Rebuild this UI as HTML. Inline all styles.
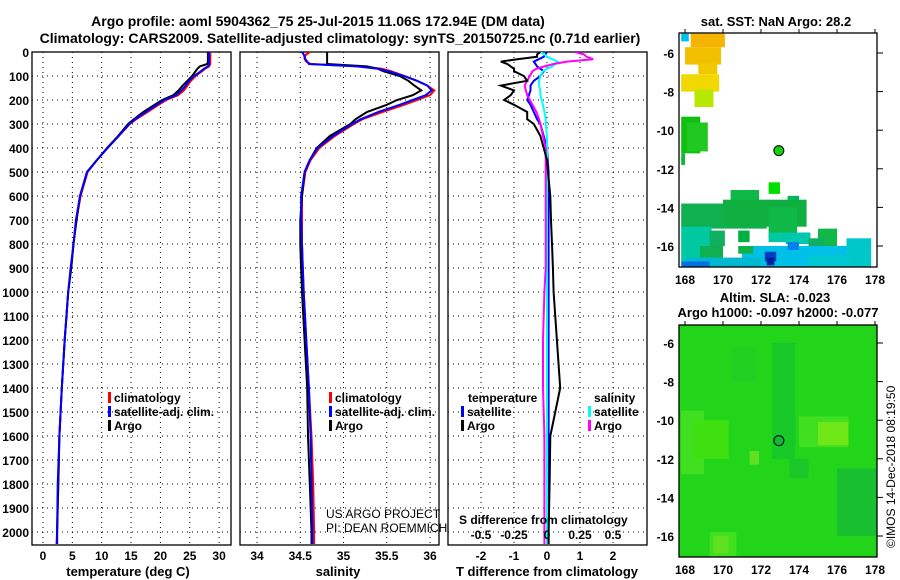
<!DOCTYPE html>
<html><head><meta charset="utf-8"><style>
html,body{margin:0;padding:0;background:#fff;}
svg{display:block;font-family:"Liberation Sans",Arial,sans-serif;font-weight:bold;}
text{fill:#000;}
</style></head><body>
<svg id="fig" width="900" height="580" viewBox="0 0 900 580" xmlns="http://www.w3.org/2000/svg">
<defs>
<clipPath id="c1"><rect x="32" y="52" width="199" height="493"/></clipPath>
<clipPath id="c2"><rect x="240" y="52" width="199" height="493"/></clipPath>
<clipPath id="c3"><rect x="448" y="52" width="200" height="493"/></clipPath>
<clipPath id="cm1"><rect x="679" y="33" width="198" height="234"/></clipPath>
<clipPath id="cm2"><rect x="679" y="325" width="198" height="232"/></clipPath>
</defs>
<text x="318" y="26" font-size="14" text-anchor="middle">Argo profile: aoml 5904362_75 25-Jul-2015 11.06S 172.94E (DM data)</text>
<text x="340" y="43" font-size="14" text-anchor="middle">Climatology: CARS2009. Satellite-adjusted climatology: synTS_20150725.nc (0.71d earlier)</text>
<g id="g1"></g>
<g id="g2"></g>
<g id="g3"></g>
<g id="m1"></g>
<g id="m2"></g>
<text x="776" y="26" font-size="13" text-anchor="middle">sat. SST: NaN Argo: 28.2</text>
<text x="775" y="302" font-size="13" text-anchor="middle">Altim. SLA: -0.023</text>
<text x="778" y="317" font-size="13" text-anchor="middle">Argo h1000: -0.097 h2000: -0.077</text>
<text transform="translate(895,548) rotate(-90)" font-size="12" font-weight="normal">©IMOS 14-Dec-2018 08:19:50</text>
</svg>
<script>
const depths=[0,10,20,30,40,50,60,70,80,100,120,140,160,180,200,220,250,280,300,350,400,450,500,600,700,800,900,1000,1200,1400,1600,1800,2000,2050];
const tArgo=[28.1,28.1,28.1,28.1,28.1,28.0,26.7,26.3,26.0,25.4,24.6,23.8,23.1,22.2,20.3,19.0,17.1,15.5,14.5,12.8,10.9,9.2,7.5,6.3,5.7,5.2,4.8,4.3,3.7,3.2,2.8,2.6,2.4,2.4];
const tClim=[28.5,28.5,28.5,28.5,28.5,28.5,28.3,27.6,27.1,26.0,25.2,24.6,24.0,23.0,21.0,19.7,17.8,15.9,14.8,12.9,11.0,9.2,7.6,6.4,5.7,5.2,4.8,4.3,3.7,3.2,2.8,2.6,2.4,2.3];
const tSat=[28.3,28.3,28.3,28.3,28.3,28.3,28.1,27.4,26.9,25.7,24.9,24.3,23.6,22.7,20.7,19.4,17.5,15.7,14.7,12.9,11.0,9.2,7.5,6.3,5.6,5.2,4.7,4.3,3.7,3.2,2.8,2.5,2.4,2.4];
const sArgo=[34.81,34.81,34.81,34.81,34.81,34.81,35.27,35.4,35.46,35.65,35.75,35.82,35.9,35.8,35.62,35.5,35.27,35.14,35.08,34.84,34.69,34.61,34.55,34.52,34.5,34.5,34.51,34.52,34.55,34.58,34.59,34.61,34.63,34.63];
const sClim=[34.61,34.57,34.55,34.55,34.57,34.62,35.2,35.45,35.55,35.7,35.85,35.97,36.05,36.0,35.85,35.7,35.45,35.22,35.12,34.9,34.72,34.62,34.56,34.52,34.52,34.52,34.53,34.54,34.57,34.6,34.63,34.65,34.66,34.66];
const sSat=[34.52,34.54,34.55,34.56,34.58,34.6,35.15,35.4,35.52,35.7,35.85,35.97,36.02,35.95,35.8,35.65,35.4,35.2,35.1,34.88,34.7,34.61,34.55,34.51,34.51,34.52,34.53,34.54,34.57,34.6,34.62,34.63,34.64,34.64];
const dtArgo=[-0.2,-0.3,-0.3,-0.9,-1.4,-1.2,-1.1,-1.0,-1.0,-0.7,-0.6,-1.4,-1.0,-1.1,-1.3,-1.0,-0.6,-0.6,-0.4,-0.2,-0.1,0.0,0.03,0.1,0.12,0.15,0.18,0.2,0.3,0.4,0.1,0.08,0.05,0.05];
const dtSat=[0.0,-0.05,-0.1,-0.25,-0.4,-0.35,-0.3,-0.2,-0.1,-0.2,-0.4,-0.5,-0.5,-0.55,-0.6,-0.5,-0.4,-0.3,-0.2,-0.1,0.0,0.02,0.05,0.05,0.05,0.05,0.05,0.05,0.05,0.05,0.05,0.05,0.05,0.05];
const dsArgo=[0.21,0.28,0.3,0.35,0.15,0.05,-0.02,-0.08,-0.11,-0.13,-0.15,-0.17,-0.16,-0.15,-0.13,-0.11,-0.08,-0.06,-0.05,-0.03,-0.01,-0.01,-0.01,-0.01,-0.01,-0.01,-0.01,-0.02,-0.03,-0.03,-0.02,-0.02,-0.02,-0.02];
const dsSat=[-0.05,-0.02,0.0,0.04,0.08,0.06,0.04,0.0,-0.03,-0.05,-0.06,-0.06,-0.05,-0.05,-0.04,-0.03,-0.02,-0.01,-0.01,0.0,0.0,0.0,0.0,0.0,0.0,0.0,0.0,0.0,0.0,0.0,0.0,0.0,0.0,0.0];
const depthTicks=[0,100,200,300,400,500,600,700,800,900,1000,1100,1200,1300,1400,1500,1600,1700,1800,1900,2000];
const tTicks=[0,5,10,15,20,25,30];
const sTicks=[34,34.5,35,35.5,36];
const dtTicks=[-2,-1,0,1,2];
const dsTicks=[-0.5,-0.25,0,0.25,0.5];
const dsTickLabels=["-0.5","-0.25","0","0.25","0.5"];
const latTicks=[-6,-8,-10,-12,-14,-16];
const lonTicks=[168,170,172,174,176,178];

const NS="http://www.w3.org/2000/svg";
function mk(tag,attrs,parent){const e=document.createElementNS(NS,tag);for(const k in attrs)e.setAttribute(k,attrs[k]);parent.appendChild(e);return e;}
const yD=d=>52+d*0.24;
const xT=t=>43+t*5.87;
const xS=s=>257+(s-34)*86.5;
const xDT=t=>547+t*33;
const xDS=s=>547+s*132;
const PB=545;

function panelFrame(g,x0,ticksX,fx,labels,xlabel,xlabelX,showDepth){
  for(const d of depthTicks){
    const l=mk('line',{x1:x0,x2:x0+199,y1:yD(d),y2:yD(d),stroke:'#000','stroke-width':1,'stroke-dasharray':'1,4'},g);
    
    
    if(showDepth){
      const t=mk('text',{x:29,y:yD(d)+5,'font-size':12,'text-anchor':'end'},g);t.textContent=d;
      
      
    }
  }
  ticksX.forEach((v,i)=>{
    const l=mk('line',{x1:fx(v),x2:fx(v),y1:52,y2:PB,stroke:'#000','stroke-width':1,'stroke-dasharray':'1,4'},g);
    
    
    if(labels){
      const t=mk('text',{x:fx(v),y:560,'font-size':12,'text-anchor':'middle'},g);t.textContent=labels[i];
      
      
    }
  });
  const r=mk('rect',{x:x0,y:52,width:199,height:PB-52,fill:'none',stroke:'#000','stroke-width':1.3},g);
  
  
  if(xlabel){
    const t=mk('text',{x:xlabelX,y:576,'font-size':13,'text-anchor':'middle'},g);t.textContent=xlabel;
    
    
  }
}
function line(g,vals,fx,color,clip,name){
  const pts=vals.map((v,i)=>fx(v).toFixed(1)+','+yD(depths[i]).toFixed(1)).join(' ');
  const p=mk('polyline',{points:pts,fill:'none',stroke:color,'stroke-width':2,'clip-path':'url(#'+clip+')'},g);
  
  
}
function legend(g,x,y,color,label){
  const b=mk('rect',{x:x,y:y-10,width:3,height:11,fill:color},g);
  
  
  const t=mk('text',{x:x+6,y:y,'font-size':12},g);t.textContent=label;
  
  
}

const g1=document.getElementById('g1');
panelFrame(g1,32,tTicks,xT,tTicks.map(String),'temperature (deg C)',128,true);
line(g1,tClim,xT,'#f00','c1','temperature-climatology-line');
line(g1,tArgo,xT,'#000','c1','temperature-argo-line');
line(g1,tSat,xT,'#00f','c1','temperature-satellite-line');
legend(g1,108,402,'#f00','climatology');
legend(g1,108,416,'#00f','satellite-adj. clim.');
legend(g1,108,430,'#000','Argo');

const g2=document.getElementById('g2');
panelFrame(g2,240,sTicks,xS,sTicks.map(String),'salinity',338,false);
line(g2,sClim,xS,'#f00','c2','salinity-climatology-line');
line(g2,sArgo,xS,'#000','c2','salinity-argo-line');
line(g2,sSat,xS,'#00f','c2','salinity-satellite-line');
legend(g2,329,402,'#f00','climatology');
legend(g2,329,416,'#00f','satellite-adj. clim.');
legend(g2,329,430,'#000','Argo');
let t=mk('text',{x:326,y:518,'font-size':12,'font-weight':'normal'},g2);t.textContent='US ARGO PROJECT';


t=mk('text',{x:326,y:532,'font-size':12,'font-weight':'normal'},g2);t.textContent='PI: DEAN ROEMMICH';



const g3=document.getElementById('g3');
panelFrame(g3,448,dtTicks,xDT,dtTicks.map(String),'T difference from climatology',547,false);
line(g3,dtSat,xDT,'#00f','c3','tdiff-satellite-line');
line(g3,dsSat,xDS,'#0ff','c3','sdiff-satellite-line');
line(g3,dsArgo,xDS,'#f0f','c3','sdiff-argo-line');
line(g3,dtArgo,xDT,'#000','c3','tdiff-argo-line');
t=mk('text',{x:468,y:402,'font-size':12},g3);t.textContent='temperature';


legend(g3,461,416,'#00f','satellite');
legend(g3,461,430,'#000','Argo');
t=mk('text',{x:594,y:402,'font-size':12},g3);t.textContent='salinity';


legend(g3,588,416,'#0ff','satellite');
legend(g3,588,430,'#f0f','Argo');
t=mk('text',{x:459,y:524,'font-size':12},g3);t.textContent='S difference from climatology';


dsTicks.forEach((v,i)=>{
  const tt=mk('text',{x:xDS(v),y:539,'font-size':12,'text-anchor':'middle'},g3);tt.textContent=dsTickLabels[i];
  
  
});

// maps
const lonX=l=>685+(l-168)*19;
function mapAxes(g,top,bottom,lat6y,clip,rects,base){
  const latY=la=>lat6y+(-6-la)*19.3;
  if(base){const b=mk('rect',{x:679,y:top,width:198,height:bottom-top,fill:base},g);
    }
  for(const r of rects){
    const e=mk('rect',{x:lonX(r[0]),y:latY(r[1]),width:r[2]*19,height:r[3]*19.3,fill:r[4],'clip-path':'url(#'+clip+')'},g);
    
    
  }
  const c=mk('circle',{cx:lonX(172.94),cy:latY(-11.06),r:5,fill:base?'#10b838':'#10d010',stroke:'#000','stroke-width':1},g);
  
  
  const f=mk('rect',{x:679,y:top,width:198,height:bottom-top,fill:'none',stroke:'#000','stroke-width':1.3},g);
  
  
  for(const la of latTicks){
    const tt=mk('text',{x:674,y:latY(la)+5,'font-size':12,'text-anchor':'end'},g);tt.textContent=la;
    
    
    mk('line',{x1:877,x2:883,y1:latY(la),y2:latY(la),stroke:'#000'},g);
  }
  for(const lo of lonTicks){
    const tt=mk('text',{x:lonX(lo),y:bottom+17,'font-size':12,'text-anchor':'middle'},g);tt.textContent=lo;
    
    
    mk('line',{x1:lonX(lo),x2:lonX(lo),y1:top,y2:top-4,stroke:'#000'},g);
  }
}
const sstCells=[
 [167.8,-5,0.4,0.4,'#00c0f0'],[168.3,-5,1.8,0.7,'#f5b400'],[168.0,-5.7,1.9,0.9,'#f2c000'],
 [168.7,-6.5,1.0,0.6,'#f0c800'],[167.8,-7.1,2.0,0.9,'#f0d800'],[168.5,-7.9,1.0,0.9,'#b8e800'],
 [167.8,-9.3,1.0,1.9,'#10c010'],[168.1,-9.6,1.1,1.5,'#20c820'],[167.8,-11.2,0.2,0.6,'#10b830'],
 [172.4,-12.7,0.6,0.6,'#00e000'],[173.4,-13.4,0.6,0.6,'#00b860'],
 [170.4,-13.1,1.4,1.2,'#10b848'],[171.4,-13.1,0.5,0.6,'#10b848'],
 [167.8,-13.8,4.5,1.3,'#10b050'],[170.0,-13.6,4.4,1.4,'#10b040'],[172.4,-14,1.5,1.6,'#10b848'],
 [167.8,-15.0,1.6,1.8,'#00c8a0'],[169.3,-15.2,0.8,0.8,'#10b060'],[170.8,-15.2,0.6,0.6,'#00b040'],
 [172.4,-15.3,1.0,0.5,'#00c8a0'],[173.3,-15.3,1.3,0.6,'#00c8b0'],[175.0,-15.1,1.0,1.2,'#10b848'],
 [174.5,-15.6,0.8,0.7,'#10b060'],[168.8,-16.0,1.2,1.0,'#10b050'],
 [171.0,-16.0,6.0,1.1,'#00c0e8'],[176.5,-15.6,1.3,1.6,'#00c8c8'],[172.2,-16.3,0.6,0.5,'#0040c0'],
 [172.3,-16.6,0.4,0.4,'#0020a0'],[170.8,-16.0,0.8,0.4,'#10b048'],[173.4,-15.8,0.6,0.4,'#0080f0'],
 [168.0,-16.6,4.0,0.6,'#00b8d0'],[167.8,-16.8,1.5,0.3,'#0070e0'],[174.5,-16.5,2.2,0.6,'#00c8d0']
];
const slaCells=[
 [167.8,-9.5,1.2,3.3,'#40e020'],[168.5,-10.0,1.8,2.0,'#40e010'],[171.4,-11.6,0.5,0.7,'#60e020'],
 [174.0,-9.8,2.6,1.6,'#40e020'],[175.0,-10.1,1.6,1.2,'#70e818'],[172.6,-6,1.2,6.0,'#16c828'],
 [176.0,-12.5,2.2,3.5,'#18c030'],[169.3,-15.8,1.4,1.4,'#40e020'],[169.5,-16.0,0.8,0.9,'#60e020'],
 [173.5,-12.0,1.0,1.0,'#18c828'],[170.5,-6.2,1.2,1.8,'#20d020']
];
mapAxes(document.getElementById('m1'),33,267,53,'cm1',sstCells,null);
mapAxes(document.getElementById('m2'),325,557,343,'cm2',slaCells,'#22d41a');
</script>
</body></html>
